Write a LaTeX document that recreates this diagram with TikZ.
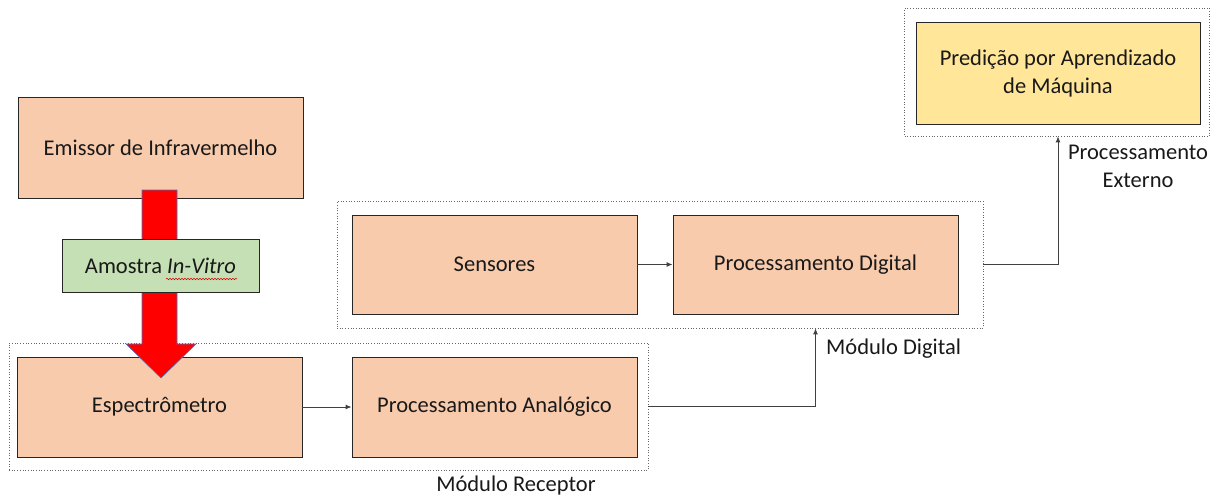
\documentclass[tikz,border=0pt]{standalone}
\usepackage{fontspec}
\setmainfont{Carlito}
\usetikzlibrary{arrows.meta,decorations.pathmorphing,calc}
\definecolor{peach}{HTML}{F8CBAD}
\definecolor{mint}{HTML}{C5E0B4}
\definecolor{butter}{HTML}{FFE699}
\definecolor{arrowred}{HTML}{FF0000}
\definecolor{arrowedge}{HTML}{4472C4}
\newcommand{\fsz}{\fontsize{22.5}{28}\selectfont}
\begin{document}
\begin{tikzpicture}[x=1pt,y=-1pt,
  blk/.style={draw=black!85, line width=0.9pt, fill=peach, minimum width=285pt, minimum height=100pt, inner sep=0pt, font=\fsz, text=black!90},
  grp/.style={draw=black!60, dotted, line width=0.7pt, inner sep=0pt},
  conn/.style={draw=black!75, line width=0.9pt, -{Latex[length=6pt,width=5pt]}},
  lbl/.style={font=\fsz, inner sep=0pt, text=black!90}]
\useasboundingbox (0,0) rectangle (1221,496);
% group frames
\node[grp, minimum width=639pt, minimum height=127pt] (rec) at (328.5,406.5) {};
\node[grp, minimum width=646pt, minimum height=127pt] (dmod) at (660,264.5) {};
\node[grp, minimum width=305pt, minimum height=128pt] (ext) at (1057,72) {};
% blocks
\node[blk, minimum height=101pt] (emi) at (160.5,147.5) {Emissor de Infravermelho};
\node[blk] (esp) at (159.5,407) {Espectrômetro};
\node[blk] (ana) at (494.5,407) {Processamento Analógico};
\node[blk, minimum height=99pt] (sen) at (494.5,264.5) {Sensores};
\node[blk, minimum height=99pt] (dig) at (815.5,264.5) {Processamento Digital};
\node[blk, fill=butter, minimum width=284pt, minimum height=102pt, align=center] (pred) at (1058,73) {Predição por Aprendizado\\de Máquina};
% big red arrow
\fill[arrowred, draw=arrowedge, line width=0.6pt, line join=miter]
  (142,190) -- (177,190) -- (177,344) -- (196,344) -- (161,378) -- (126,344) -- (142,344) -- cycle;
% sample
\node[blk, fill=mint, minimum width=197pt, minimum height=53pt] (amo) at (160.5,265.5) {Amostra \textit{In-Vitro}};
\draw[red!85!black, line width=0.5pt, decorate, decoration={snake, amplitude=0.8pt, segment length=3pt}] (166,279) -- (237,279);
% connectors
\draw[conn] (esp) -- (ana);
\draw[conn] (sen) -- (dig);
\draw[conn] (rec.east) -| (dig.south |- dmod.south);
\draw[conn] (dmod.east) -| (pred.south |- ext.south);
% labels
\node[lbl] (lrec) at (516,485) {Módulo Receptor};
\node[lbl, anchor=west] (ldig) at (826,349) {Módulo Digital};
\node[lbl, align=center] (lext) at (1138,166) {Processamento\\Externo};
\end{tikzpicture}
\end{document}
